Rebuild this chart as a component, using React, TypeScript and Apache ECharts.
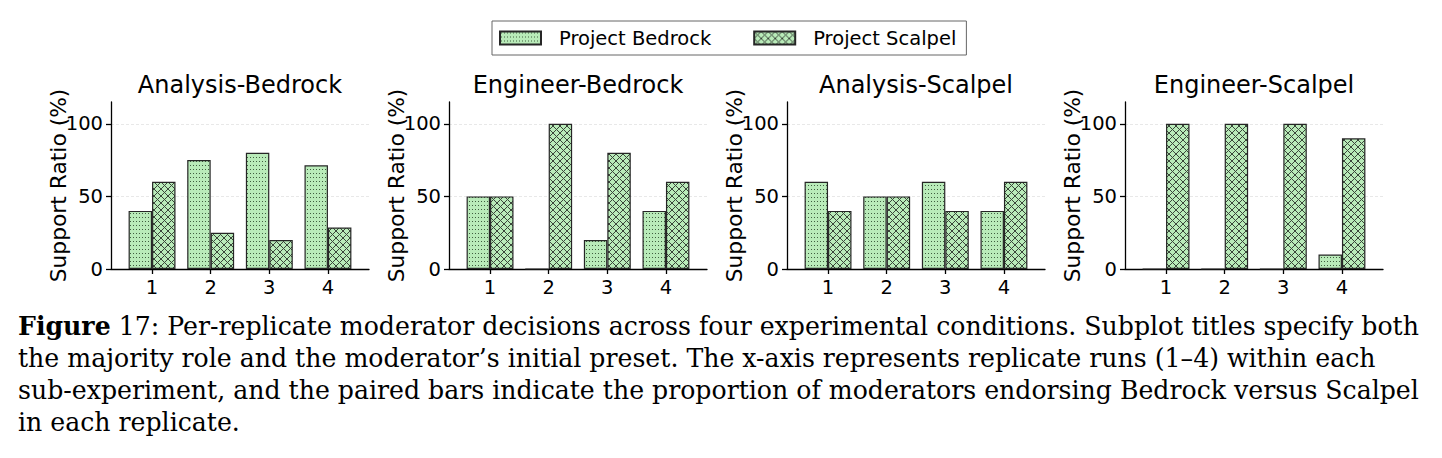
import React, { useEffect, useRef } from 'react';
import * as echarts from 'echarts';

// ---------- data ----------
const replicates = ['1', '2', '3', '4'];
const panelTitles = ['Analysis-Bedrock', 'Engineer-Bedrock', 'Analysis-Scalpel', 'Engineer-Scalpel'];
const seriesNames = ['Project Bedrock', 'Project Scalpel'];
const bedrockAnalysisBedrock = [40, 75, 80, 71.4];
const scalpelAnalysisBedrock = [60, 25, 20, 28.6];
const bedrockEngineerBedrock = [50, 0, 20, 40];
const scalpelEngineerBedrock = [50, 100, 80, 60];
const bedrockAnalysisScalpel = [60, 50, 60, 40];
const scalpelAnalysisScalpel = [40, 50, 40, 60];
const bedrockEngineerScalpel = [0, 0, 0, 10];
const scalpelEngineerScalpel = [100, 100, 100, 90];
const yTicks = [0, 50, 100];
const yAxisName = 'Support Ratio (%)';
const captionLines = [
  '{b|Figure} 17: Per-replicate moderator decisions across four experimental conditions. Subplot titles specify both',
  'the majority role and the moderator\u2019s initial preset. The x-axis represents replicate runs (1\u20134) within each',
  'sub-experiment, and the paired bars indicate the proportion of moderators endorsing Bedrock versus Scalpel',
  'in each replicate.',
];

const panelBedrock = [bedrockAnalysisBedrock, bedrockEngineerBedrock, bedrockAnalysisScalpel, bedrockEngineerScalpel];
const panelScalpel = [scalpelAnalysisBedrock, scalpelEngineerBedrock, scalpelAnalysisScalpel, scalpelEngineerScalpel];

// ---------- style ----------
const FONT = 'DejaVu Sans';
const SERIF = 'DejaVu Serif';
const BASE = '#b9ebb9';

function makeTile(kind: 'dots' | 'cross') {
  const c = document.createElement('canvas');
  const s = kind === 'dots' ? [3, 4] : [7, 7];
  c.width = s[0];
  c.height = s[1];
  const ctx = c.getContext('2d')!;
  ctx.fillStyle = BASE;
  ctx.fillRect(0, 0, s[0], s[1]);
  if (kind === 'dots') {
    ctx.fillStyle = '#3f5e3f';
    ctx.fillRect(1, 1, 1, 1);
  } else {
    ctx.strokeStyle = '#3a463a';
    ctx.lineWidth = 1;
    ctx.beginPath();
    ctx.moveTo(-1, -1);
    ctx.lineTo(s[0] + 1, s[1] + 1);
    ctx.moveTo(s[0] + 1, -1);
    ctx.lineTo(-1, s[1] + 1);
    ctx.stroke();
  }
  return { image: c.toDataURL(), repeat: 'repeat', imageWidth: s[0], imageHeight: s[1] };
}

export default function App() {
  const ref = useRef<HTMLDivElement>(null);
  useEffect(() => {
    document.body.style.margin = '0';
    const chart = echarts.init(ref.current!, undefined, { renderer: 'svg' });
    const dots = makeTile('dots');
    const cross = makeTile('cross');
    const gridLeft0 = 111;
    const gridStep = 338;
    const gridW = 258;
    const gridTop = 102;
    const gridH = 167;

    const grids = panelTitles.map((_, i) => ({
      left: gridLeft0 + gridStep * i,
      top: gridTop,
      width: gridW,
      height: gridH,
    }));
    const titles = panelTitles.map((t, i) => ({
      text: t,
      left: gridLeft0 + gridStep * i + gridW / 2,
      top: 73,
      textAlign: 'center',
      padding: 0,
      textStyle: { fontFamily: FONT, fontSize: 24, fontWeight: 'normal', color: '#000' },
    }));
    const xAxes = panelTitles.map((_, i) => ({
      type: 'value',
      gridIndex: i,
      min: -0.7,
      max: 3.7,
      axisLine: { onZero: false, lineStyle: { color: '#000', width: 1.3 } },
      axisTick: { customValues: [0, 1, 2, 3], length: 5, lineStyle: { color: '#000', width: 1.3 } },
      axisLabel: {
        customValues: [0, 1, 2, 3],
        formatter: (v: number) => replicates[Math.round(v)],
        fontFamily: FONT,
        fontSize: 19.5,
        color: '#000',
        margin: 8,
      },
      splitLine: { show: false },
    }));
    const yAxes = panelTitles.map((_, i) => ({
      type: 'value',
      gridIndex: i,
      min: 0,
      max: 115,
      interval: 50,
      name: yAxisName,
      nameLocation: 'middle',
      nameGap: 42,
      nameMoveOverlap: false,
      nameTextStyle: { fontFamily: FONT, fontSize: 21.8, color: '#000' },
      axisLine: { show: true, onZero: false, lineStyle: { color: '#000', width: 1.3 } },
      axisTick: { show: true, customValues: yTicks, length: 5, lineStyle: { color: '#000', width: 1.3 } },
      axisLabel: { customValues: yTicks, fontFamily: FONT, fontSize: 19.5, color: '#000', margin: 8 },
      splitLine: { show: true, lineStyle: { color: '#e2e2e2', type: [3, 2], width: 0.8 } },
    }));
    const series: any[] = [];
    panelTitles.forEach((_, i) => {
      series.push({
        type: 'bar',
        name: seriesNames[0],
        xAxisIndex: i,
        yAxisIndex: i,
        barWidth: '40%',
        barGap: '0%',
        data: panelBedrock[i].map((v, j) => [j, v]),
        itemStyle: { color: dots, borderColor: '#262626', borderWidth: 1.2 },
      });
      series.push({
        type: 'bar',
        name: seriesNames[1],
        xAxisIndex: i,
        yAxisIndex: i,
        barWidth: '40%',
        barGap: '0%',
        data: panelScalpel[i].map((v, j) => [j, v]),
        itemStyle: { color: cross, borderColor: '#262626', borderWidth: 1.2 },
      });
    });

    const caption = captionLines.map((line, k) => ({
      type: 'text',
      left: 18,
      top: 311 + 32 * k,
      style: {
        text: line,
        fontFamily: SERIF,
        fontSize: 25.2,
        lineHeight: 30,
        fill: '#000',
        rich: { b: { fontFamily: SERIF, fontSize: 25.2, lineHeight: 30, fontWeight: 'bold', fill: '#000' } },
      },
    }));

    chart.setOption({
      animation: false,
      backgroundColor: '#fff',
      title: titles,
      legend: {
        data: seriesNames,
        left: 492,
        top: 21,
        icon: 'rect',
        itemWidth: 41,
        itemHeight: 13,
        itemGap: 42,
        padding: [7, 10, 7, 7],
        borderColor: '#666',
        borderWidth: 1,
        selectedMode: false,
        textStyle: { fontFamily: FONT, fontSize: 19.5, color: '#000', padding: [0, 0, 0, 13] },
      },
      grid: grids,
      xAxis: xAxes,
      yAxis: yAxes,
      series,
      graphic: caption,
    });
    return () => chart.dispose();
  }, []);
  return <div ref={ref} style={{ width: 1442, height: 458 }} />;
}
